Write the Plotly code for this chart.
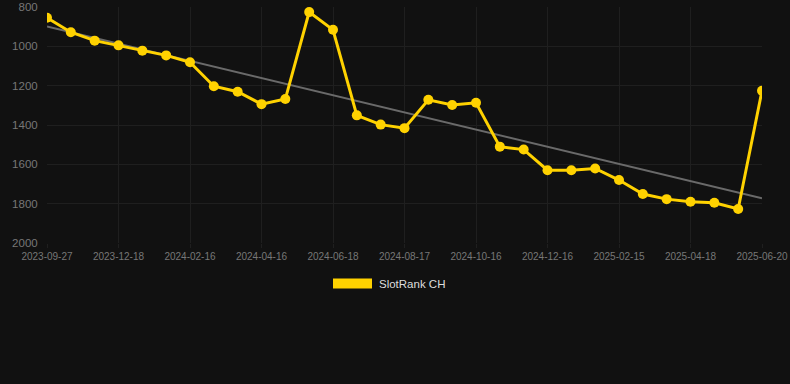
import numpy as np
import plotly.graph_objects as go

dates = ["2023-09-27", "2023-10-24", "2023-11-21", "2023-12-18", "2024-01-07", "2024-01-27",
         "2024-02-16", "2024-03-07", "2024-03-27", "2024-04-16", "2024-05-07", "2024-05-28",
         "2024-06-18", "2024-07-08", "2024-07-28", "2024-08-17", "2024-09-06", "2024-09-26",
         "2024-10-16", "2024-11-05", "2024-11-25", "2024-12-16", "2025-01-05", "2025-01-25",
         "2025-02-15", "2025-03-07", "2025-03-28", "2025-04-18", "2025-05-09", "2025-05-30",
         "2025-06-20"]
ranks = [855, 928, 971, 995, 1022, 1046, 1081, 1203, 1231, 1294, 1268, 826, 916, 1351, 1398,
         1416, 1272, 1298, 1287, 1510, 1525, 1630, 1630, 1621, 1680, 1751, 1777, 1790, 1795,
         1827, 1226]
series_name = "SlotRank CH"
y_ticks = [800, 1000, 1200, 1400, 1600, 1800, 2000]

idx = np.arange(len(ranks))
slope, intercept = np.polyfit(idx, ranks, 1)
trend = (intercept + slope * idx).tolist()

font = "Liberation Sans, Arial, sans-serif"
gold = "#FFD200"
grid = "#1f1f1f"

fig = go.Figure()
fig.add_trace(go.Scatter(x=dates, y=trend, mode="lines",
                         line=dict(color="#6a6a6a", width=2), showlegend=False,
                         hoverinfo="skip"))
fig.add_trace(go.Scatter(x=dates, y=ranks, mode="lines+markers", name=series_name,
                         line=dict(color=gold, width=3),
                         marker=dict(color=gold, size=10), showlegend=False))

fig.update_layout(
    width=790, height=384,
    paper_bgcolor="#111111", plot_bgcolor="#111111",
    margin=dict(l=47, r=28, t=7, b=141, autoexpand=False),
    font=dict(family=font, color="#777777"),
    xaxis=dict(type="category", range=[0, len(dates) - 1],
               tickmode="array", tickvals=dates[::3], ticktext=dates[::3],
               showgrid=True, gridcolor=grid, gridwidth=1,
               ticks="outside", ticklen=4, tickcolor=grid,
               tickfont=dict(size=10, color="#777777"), zeroline=False,
               showline=False, automargin=False),
    yaxis=dict(range=[2000, 800], tickvals=y_ticks,
               showgrid=True, gridcolor=grid, gridwidth=1,
               tickfont=dict(size=11.5, color="#777777"), zeroline=False,
               ticks="outside", ticklen=6, tickcolor="#111111", automargin=False),
    shapes=[dict(type="rect", xref="paper", yref="paper",
                 x0=(333 - 47) / 715, x1=(372 - 47) / 715,
                 y0=(243.3 - 289) / 236.5, y1=(243.3 - 279) / 236.5,
                 fillcolor=gold, line=dict(width=0))],
    annotations=[dict(text=series_name, xref="paper", yref="paper",
                      x=(377 - 47) / 715, y=(243.3 - 284) / 236.5,
                      xanchor="left", yanchor="middle", showarrow=False,
                      font=dict(size=11.5, color="#dddddd", family=font))],
)

fig.write_html("out.html", config={"displayModeBar": False},
               post_script="document.body.style.margin='0';document.body.style.background='#111111';")
